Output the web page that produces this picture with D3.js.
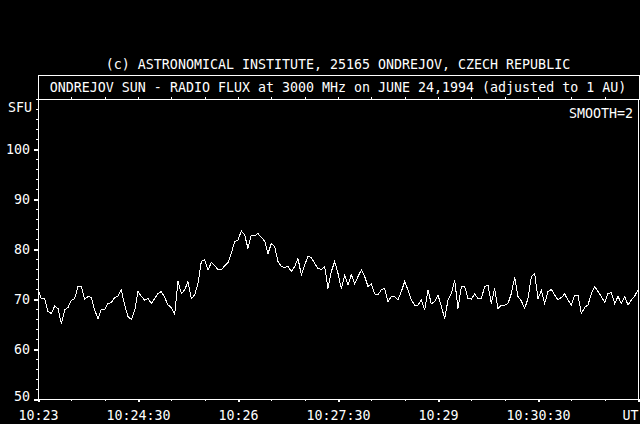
<!DOCTYPE html>
<html>
<head>
<meta charset="utf-8">
<script src="https://cdn.jsdelivr.net/npm/d3@7"></script>
<style>
    body { margin: 0; background: #000; }
    svg text { font-family: "DejaVu Sans Mono", monospace; font-size: 13.3px; fill: #fff; }
</style>
</head>
<body>
<svg id="chart" width="640" height="424"></svg>
<script>
// radio flux samples, one every 3 s starting at 10:23:00 UT
const sampleStep = 3;
const flux = [
    71.8, 70.1, 70.0, 67.5, 67.1, 68.6, 68.1, 65.1, 67.8, 68.3,
    69.7, 70.1, 72.5, 72.5, 69.9, 70.5, 70.3, 67.8, 66.1, 67.9,
    67.9, 69.1, 69.3, 70.3, 70.6, 71.8, 68.8, 66.5, 65.9, 67.7,
    71.5, 70.5, 69.8, 70.1, 69.1, 70.1, 71.1, 71.5, 70.3, 68.8,
    68.3, 67.0, 73.5, 71.1, 71.8, 73.5, 70.1, 70.8, 73.1, 77.5,
    77.9, 75.8, 77.3, 76.7, 75.8, 75.9, 76.6, 77.3, 79.1, 81.5,
    81.8, 83.6, 82.8, 80.1, 82.8, 82.6, 83.1, 82.3, 81.6, 79.1,
    81.1, 80.5, 77.5, 76.5, 76.3, 76.5, 75.5, 76.5, 78.1, 74.8,
    76.8, 78.5, 78.3, 77.1, 76.1, 75.9, 76.5, 72.1, 75.5, 77.5,
    75.1, 72.1, 74.8, 72.8, 74.9, 73.0, 74.5, 75.8, 74.5, 72.5,
    73.0, 71.0, 70.8, 71.9, 72.1, 69.5, 70.5, 70.5, 69.8, 71.5,
    73.5, 71.8, 69.8, 68.8, 68.8, 69.8, 67.8, 71.8, 69.0, 69.5,
    70.8, 68.5, 66.1, 69.8, 71.1, 73.8, 68.1, 72.5, 72.5, 70.1,
    70.0, 71.0, 70.1, 70.1, 72.5, 72.8, 69.1, 72.1, 68.1, 68.8,
    68.8, 69.1, 71.1, 74.3, 70.5, 69.6, 68.1, 70.1, 74.5, 75.1,
    70.1, 71.7, 69.1, 71.5, 71.9, 70.8, 69.8, 70.3, 71.0, 69.8,
    68.8, 70.8, 70.8, 67.1, 68.3, 68.8, 71.1, 72.5, 71.5, 70.5,
    69.3, 71.1, 71.3, 69.1, 70.5, 69.1, 70.5, 68.8, 69.8, 70.6,
    71.8
];

// axes: seconds after 10:23:00 UT, flux in SFU
const xTickSeconds = [0, 90, 180, 270, 360, 450, 540];
const xTickLabels = ['10:23', '10:24:30', '10:26', '10:27:30', '10:29', '10:30:30', 'UT'];
const yTicks = [50, 60, 70, 80, 90, 100];

const copyright = '(c) ASTRONOMICAL INSTITUTE, 25165 ONDREJOV, CZECH REPUBLIC';
const title = 'ONDREJOV SUN - RADIO FLUX at 3000 MHz on JUNE 24,1994 (adjusted to 1 AU)';

let plotLeft = 38, plotRight = 638, plotTop = 99, plotBottom = 399;

let svg = d3.select('#chart');

svg.append('rect')
    .attr('width', 640)
    .attr('height', 424)
    .attr('fill', '#000');

let x = d3.scaleLinear().domain([0, 540]).range([plotLeft, plotRight]);
let y = d3.scaleLinear().domain([50, 110]).range([plotBottom, plotTop]);

// header
svg.append('text')
    .attr('x', 338)
    .attr('y', 69)
    .attr('text-anchor', 'middle')
    .text(copyright);

svg.append('rect')
    .attr('x', plotLeft + 0.5)
    .attr('y', 75.5)
    .attr('width', 600.5)
    .attr('height', plotTop - 75)
    .attr('fill', 'none')
    .attr('stroke', '#fff')
    .attr('shape-rendering', 'crispEdges');

svg.append('text')
    .attr('x', 338)
    .attr('y', 92)
    .attr('text-anchor', 'middle')
    .text(title);

// plot frame
svg.append('rect')
    .attr('x', plotLeft + 0.5)
    .attr('y', plotTop + 0.5)
    .attr('width', plotRight - plotLeft)
    .attr('height', plotBottom - plotTop)
    .attr('fill', 'none')
    .attr('stroke', '#fff')
    .attr('shape-rendering', 'crispEdges');

// y axis: minor ticks every 2 SFU, major every 10
let yMinor = svg.append('g')
    .attr('transform', 'translate(' + plotLeft + ',0)')
    .call(d3.axisLeft(y).tickValues(d3.range(50, 111, 2)).tickSize(2).tickFormat(''));

let yMajor = svg.append('g')
    .attr('transform', 'translate(' + plotLeft + ',0)')
    .call(d3.axisLeft(y).tickValues(yTicks).tickSize(4).tickPadding(4));

yMajor.selectAll('.tick line').attr('stroke-width', 2);

// x axis: minor ticks every 30 s
let xMinor = svg.append('g')
    .attr('transform', 'translate(0,' + plotBottom + ')')
    .call(d3.axisBottom(x).tickValues(d3.range(0, 541, 30)).tickSize(2).tickFormat(''));

let xTop = svg.append('g')
    .attr('transform', 'translate(0,' + plotTop + ')')
    .call(d3.axisTop(x).tickValues(d3.range(30, 540, 30)).tickSize(2).tickFormat(''));

let xMajor = svg.append('g')
    .attr('transform', 'translate(0,' + plotBottom + ')')
    .call(d3.axisBottom(x).tickValues(xTickSeconds).tickSize(3)
        .tickFormat(function(d, i) {
            return xTickLabels[i];
        }));

xMajor.selectAll('.tick line').attr('stroke-width', 2);
xMajor.selectAll('.tick text')
    .attr('y', 21)
    .attr('dy', 0)
    .attr('text-anchor', function(d, i) {
        return i === xTickLabels.length - 1 ? 'end' : 'middle';
    });

svg.selectAll('.domain').remove();
svg.selectAll('.tick line')
    .attr('stroke', '#fff')
    .attr('shape-rendering', 'crispEdges');
svg.selectAll('.tick text')
    .attr('fill', '#fff')
    .style('font-family', '"DejaVu Sans Mono", monospace')
    .style('font-size', '13.3px');

// the bottom label sits just above the frame corner
yMajor.selectAll('.tick text')
    .filter(function(d) { return d === 50; })
    .attr('dy', '0.1em');

svg.append('text')
    .attr('x', 32)
    .attr('y', 112)
    .attr('text-anchor', 'end')
    .text('SFU');

svg.append('text')
    .attr('x', 633)
    .attr('y', 118)
    .attr('text-anchor', 'end')
    .text('SMOOTH=2');

// flux curve
let line = d3.line()
    .x(function(d, i) { return x(i * sampleStep); })
    .y(function(d) { return y(d); });

svg.append('path')
    .datum(flux)
    .attr('d', line)
    .attr('fill', 'none')
    .attr('stroke', '#fff')
    .attr('stroke-width', 1)
    .attr('shape-rendering', 'crispEdges');
</script>
</body>
</html>
